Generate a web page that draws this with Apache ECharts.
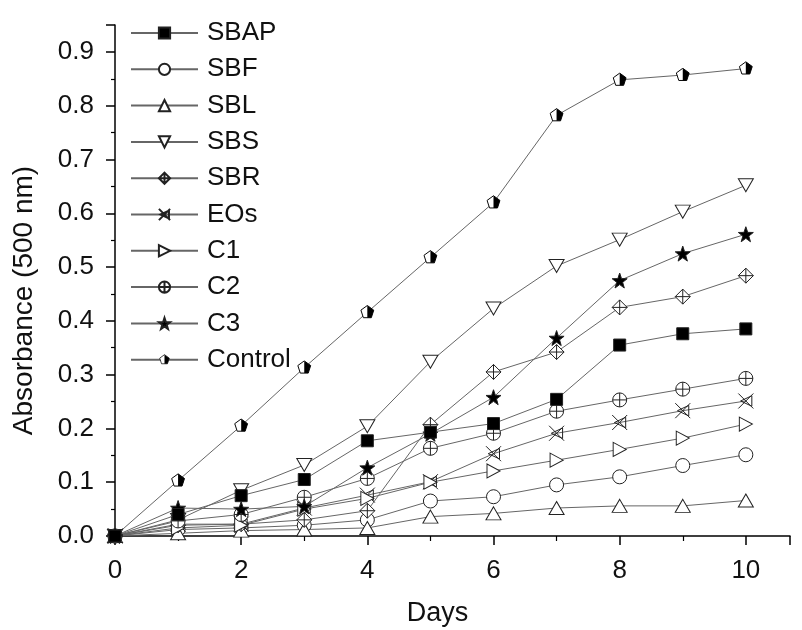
<!DOCTYPE html>
<html>
<head>
<meta charset="utf-8">
<script src="https://cdn.jsdelivr.net/npm/echarts@6/dist/echarts.min.js"></script>
<style>
  html, body { margin: 0; padding: 0; background: #fff; }
  #main { width: 802px; height: 630px; }
</style>
</head>
<body>
<div id="main"></div>
<script>
// data
var days = [0, 1, 2, 3, 4, 5, 6, 7, 8, 9, 10];
var SBAP = [0, 0.040, 0.075, 0.105, 0.177, 0.193, 0.209, 0.254, 0.355, 0.376, 0.385];
var SBF = [0, 0.012, 0.015, 0.020, 0.030, 0.065, 0.073, 0.095, 0.110, 0.131, 0.151];
var SBL = [0, 0.005, 0.010, 0.012, 0.015, 0.036, 0.042, 0.052, 0.056, 0.056, 0.066];
var SBS = [0, 0.030, 0.085, 0.132, 0.204, 0.324, 0.423, 0.502, 0.551, 0.603, 0.652];
var SBR = [0, 0.020, 0.022, 0.030, 0.047, 0.207, 0.305, 0.342, 0.425, 0.445, 0.484];
var EOs = [0, 0.022, 0.022, 0.052, 0.076, 0.101, 0.153, 0.191, 0.211, 0.233, 0.251];
var C1 = [0, 0.015, 0.020, 0.050, 0.070, 0.100, 0.121, 0.141, 0.161, 0.182, 0.208];
var C2 = [0, 0.028, 0.040, 0.072, 0.107, 0.163, 0.191, 0.232, 0.253, 0.273, 0.293];
var C3 = [0, 0.052, 0.050, 0.055, 0.127, 0.190, 0.258, 0.368, 0.475, 0.525, 0.561];
var Control = [0, 0.103, 0.205, 0.313, 0.416, 0.518, 0.620, 0.782, 0.848, 0.857, 0.869];

var FONT = '"Liberation Sans", Arial, sans-serif';

// half filled pentagon for Control
var pentSvg = "<svg xmlns='http://www.w3.org/2000/svg' width='20' height='20' viewBox='0 0 20 20'>" +
  "<polygon points='10,1 18.56,7.22 15.29,17.28 4.71,17.28 1.44,7.22' fill='#fff' stroke='#000' stroke-width='1.3'/>" +
  "<polygon points='10,1 18.56,7.22 15.29,17.28 10,17.28' fill='#000'/></svg>";
var pentIcon = 'image://data:image/svg+xml;charset=utf-8,' + encodeURIComponent(pentSvg);

var symbols = {
  SBAP: { symbol: 'rect', size: 12, fill: '#000' },
  SBF: { symbol: 'circle', size: 14, fill: '#fff' },
  SBL: { symbol: 'triangle', size: [15, 13], fill: '#fff' },
  SBS: { symbol: 'path://M0,0L20,0L10,18Z', size: [15, 13], fill: '#fff' },
  SBR: { symbol: 'path://M10,0L20,10L10,20L0,10Z M10,0L10,20 M0,10L20,10', size: 15, fill: '#fff' },
  EOs: { symbol: 'path://M0,0L20,20 M0,20L20,0 M18,3L3,10L18,17Z', size: 15, fill: 'none' },
  C1: { symbol: 'path://M0,0L18,10L0,20Z', size: [13, 14], fill: '#fff' },
  C2: { symbol: 'path://M10,0A10,10 0 1 1 10,20A10,10 0 1 1 10,0Z M10,0L10,20 M0,10L20,10', size: 14, fill: '#fff' },
  C3: { symbol: 'path://M10,0L12.35,6.76L19.51,6.91L13.8,11.24L15.88,18.09L10,14L4.12,18.09L6.2,11.24L0.49,6.91L7.65,6.76Z', size: 15, fill: '#000' },
  Control: { symbol: pentIcon, size: 15, fill: '#fff' }
};

var seriesData = [
  ['SBAP', SBAP], ['SBF', SBF], ['SBL', SBL], ['SBS', SBS], ['SBR', SBR],
  ['EOs', EOs], ['C1', C1], ['C2', C2], ['C3', C3], ['Control', Control]
];

var myChart = echarts.init(document.getElementById('main'));

var series = seriesData.map(function (s) {
  var sym = symbols[s[0]];
  return {
    name: s[0],
    type: 'line',
    data: days.map(function (d, i) { return [d, s[1][i]]; }),
    symbol: sym.symbol,
    symbolSize: sym.size,
    showAllSymbol: true,
    clip: false,
    z: s[0] === 'SBAP' ? 4 : 2,
    lineStyle: { color: '#666', width: 1 },
    itemStyle: { color: sym.fill, borderColor: '#222', borderWidth: 1 },
    emphasis: { disabled: true }
  };
});

var option = {
  animation: false,
  backgroundColor: '#fff',
  grid: { left: 115, right: 12, top: 25, bottom: 94, outerBoundsMode: 'none', containLabel: false },
  legend: {
    orient: 'vertical',
    left: 125,
    top: 14,
    itemWidth: 67,
    itemHeight: 14,
    itemGap: 8.3,
    textStyle: { fontFamily: FONT, fontSize: 26, color: '#111', lineHeight: 28, padding: [0, 0, 0, 4] },
    data: seriesData.map(function (s) { return s[0]; })
  },
  xAxis: {
    type: 'value',
    min: 0,
    max: 10.7,
    interval: 2,
    name: 'Days',
    nameLocation: 'middle',
    nameGap: 64,
    nameTextStyle: { fontFamily: FONT, fontSize: 27, color: '#111', padding: [0, 30, 0, 0] },
    axisLine: { show: true, onZero: false, lineStyle: { color: '#000', width: 1.5 } },
    axisTick: { show: true, inside: false, length: 9, lineStyle: { color: '#000', width: 1.5 } },
    minorTick: { show: true, splitNumber: 2, length: 5, lineStyle: { color: '#000', width: 1.2 } },
    axisLabel: {
      fontFamily: FONT, fontSize: 26, color: '#111', margin: 22,
      showMaxLabel: false,
      formatter: function (v) { return v % 2 === 0 ? String(v) : ''; }
    },
    splitLine: { show: false }
  },
  yAxis: {
    type: 'value',
    min: 0,
    max: 0.95,
    interval: 0.1,
    name: 'Absorbance (500 nm)',
    nameLocation: 'middle',
    nameGap: 77,
    nameTextStyle: { fontFamily: FONT, fontSize: 28, color: '#111', padding: [0, 40, 0, 0] },
    axisLine: { show: true, lineStyle: { color: '#000', width: 1.5 } },
    axisTick: { show: true, inside: false, length: 9, lineStyle: { color: '#000', width: 1.5 } },
    minorTick: { show: true, splitNumber: 2, length: 4, lineStyle: { color: '#000', width: 1.2 } },
    axisLabel: {
      fontFamily: FONT, fontSize: 26, color: '#111', margin: 21,
      showMaxLabel: false,
      formatter: function (v) { return v.toFixed(1); }
    },
    splitLine: { show: false }
  },
  series: series
};

myChart.setOption(option);
</script>
</body>
</html>
